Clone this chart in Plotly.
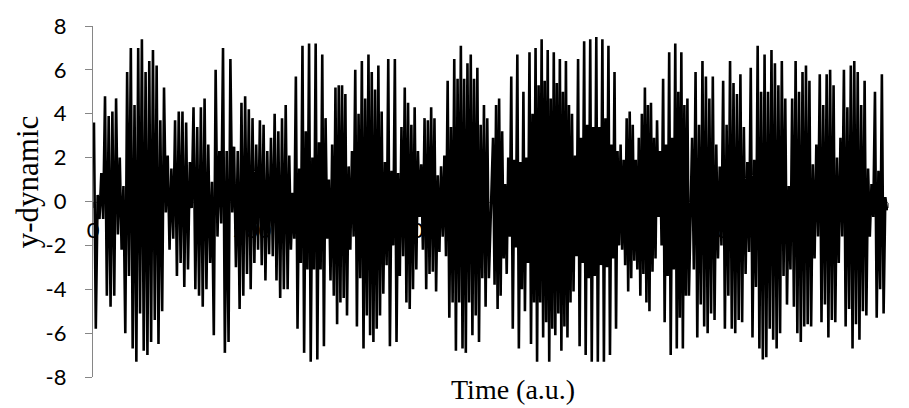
import plotly.graph_objects as go

# Values (successive peaks/troughs of y-dynamic), four stretches of time
seg1_values = [3.6, -5.8, 0.3, -0.8, 1.3, -0.8, 4.8, -4.3, 3.9, -4.8, 4.1, -4.3, 4.7, -1.5, 2.0, -2.2,
               0.7, -6.0, 5.9, -3.4, 7.0, -6.7, 4.4, -7.3, 7.0, -5.1, 7.4, -6.8, 5.9, -7.0, 6.4, -6.4,
               6.9, -5.4, 6.2, -6.5, 3.7, -5.0, 5.2, -0.5, 2.1, -2.2, 1.5, -1.7, 3.7, -3.4, 4.1, -2.8,
               4.1, -3.9, 3.6, -3.1, 1.8, -0.3, 4.3, -4.0, 3.4, -4.3, 4.3, -4.8, 4.7, -4.0, 2.6, -2.8,
               0.9, -6.1, 6.0, -1.6, 2.3, -1.0, 7.0, -6.9, 2.3, -6.4, 6.5, -0.5, 2.5, -3.0, 2.3, -4.9,
               4.5, -4.3, 4.8, -3.3, 4.2, -4.0, 3.8, -2.8, 2.6, -2.2, 3.7, -2.9, 3.5, -3.6, 2.3, -2.4,
               2.9, -2.5, 4.0, -3.6, 3.2, -4.4, 3.8, -4.0, 4.4]
seg2_values = [-4.0, 2.1, -2.2, 0.4, -1.7, 5.7, -5.8, 1.5, -2.8, 7.1, -6.9, 3.2, -3.1, 7.2, -7.3, 2.0,
               -3.1, 7.2, -7.2, 2.7, -3.1, 6.7, -6.6, 3.8, -1.7, 1.0, -3.6, 2.6, -4.3, 5.2, -5.6, 5.3,
               -4.6, 5.3, -4.4, 4.9, -5.2, 1.6, -2.2, 2.3, -1.6, 6.0, -5.7, 4.0, -3.5, 6.4, -6.7, 4.7,
               -5.2, 6.7, -6.1, 5.9, -6.4, 5.1, -5.8, 6.2, -5.2, 4.1, -4.2, 1.8, -2.9, 6.5, -6.6, 1.4,
               -2.0, 6.5, -6.4, 1.3, -3.4, 3.4, -2.5, 5.2, -4.6, 4.5, -4.9, 3.5, -4.0, 4.3, -3.1, 2.3,
               -0.7, 1.7, -2.2, 3.8, -4.0, 3.7, -3.3, 4.3, -3.2, 3.8, -4.1, 1.2, -2.3, 1.6, -1.6, 2.1,
               -2.5, 5.5, -5.3, 3.4, -4.6, 6.5, -6.8, 5.6, -4.6, 7.1, -6.7, 5.6, -6.9, 6.3, -4.6, 6.7,
               -6.1, 5.6, -5.2, 6.1, -6.4, 3.5, -3.5, 4.4, -4.8, 3.8, -3.5]
seg3_values = [2.9, -3.8, 4.4, -4.9, 4.7, -4.3, 3.2, -2.6, 0.8, -3.3, 2.0, -1.6, 5.7, -5.8, 1.9, -2.1,
               6.7, -6.7, 1.8, -4.0, 5.0, -5.0, 2.0, -2.8, 6.8, -6.5, 4.0, -4.6, 7.0, -7.3, 5.3, -4.6,
               7.4, -6.2, 5.5, -5.5, 6.9, -7.3, 4.7, -5.8, 6.8, -6.1, 5.4, -5.1, 6.5, -6.8, 5.0, -5.7,
               6.4, -6.2, 4.4, -4.6, 4.0, -4.1, 2.1, -2.5, 6.5, -6.6, 2.9, -2.8, 7.3, -7.0, 3.5, -3.5,
               7.4, -7.3, 3.4, -3.4, 7.5, -7.3, 3.4, -2.9, 7.4, -7.3, 3.8, -3.0, 7.1, -7.0, 2.6, -2.6,
               5.9, -5.8, 2.3, -2.0, 2.6, -2.2, 1.9, -2.9, 3.8, -4.1, 4.1, -3.5, 3.5, -2.7, 1.9, -3.1,
               2.9, -4.3, 4.0, -3.3, 5.2, -4.6, 4.4, -5.0, 4.5, -3.2, 2.9, -2.6, 3.7, -0.7, 2.3, -2.0,
               5.6, -5.5, 2.6, -3.4, 6.8, -7.0, 2.9, -3.1, 7.2, -6.7, 5.0, -5.3, 6.8, -6.7, 4.4, -4.3,
               4.7, -4.3]
seg4_values = [2.9, -3.1, 5.9, -6.2, 3.5, -4.7, 6.4, -5.7, 5.7, -6.0, 4.7, -5.1, 5.7, -5.4, 2.6, -2.6,
               1.6, -2.0, 5.5, -5.8, 3.5, -4.3, 6.4, -5.8, 5.4, -6.0, 4.9, -5.4, 5.8, -5.5, 3.4, -3.3,
               1.8, -2.3, 6.1, -6.2, 1.9, -3.9, 7.1, -6.7, 5.0, -7.2, 6.7, -7.1, 5.0, -5.8, 6.9, -6.3,
               6.3, -6.7, 5.3, -6.0, 6.4, -3.4, 4.7, -4.7, 0.7, -3.1, 4.7, -4.8, 6.4, -6.0, 5.0, -6.4,
               5.9, -5.7, 6.2, -5.6, 5.5, -5.7, 1.7, -2.6, 2.6, -1.6, 5.8, -5.5, 4.4, -4.7, 5.8, -6.2,
               6.0, -5.4, 5.3, -5.5, 2.0, -2.8, 2.9, -1.6, 6.0, -5.7, 4.3, -4.9, 6.2, -6.7, 6.4, -5.6,
               5.9, -6.3, 4.4, -5.0, 5.5, -5.2, 1.5, -1.6, 0.8, -0.7, 5.0, -5.3, 1.4, -4.0, 5.8, -5.1,
               0.2, -0.4]

# time span (a.u.) covered by each stretch
seg_start = [3, 612, 1258, 1884]
seg_end = [606, 1245, 1874, 2497]

x_ticks = [0, 500, 1000, 1500, 2000, 2500]
y_ticks = [-8, -6, -4, -2, 0, 2, 4, 6, 8]

times, values = [], []
for vals, t0, t1 in zip([seg1_values, seg2_values, seg3_values, seg4_values], seg_start, seg_end):
    n = len(vals)
    for i, v in enumerate(vals):
        times.append(t0 + (t1 - t0) * i / (n - 1))
        values.append(v)

AX = "#868686"
TICKFONT = dict(family="Lato, Open Sans, sans-serif", size=22, color="#000000")

fig = go.Figure()
fig.add_trace(go.Scatter(x=times, y=values, mode="lines",
                         line=dict(color="#000000", width=2.6), showlegend=False))

fig.update_layout(
    width=909, height=408,
    margin=dict(l=93, r=21, t=20, b=31),
    paper_bgcolor="white", plot_bgcolor="white",
    xaxis=dict(range=[0, 2500], tickvals=x_ticks, ticktext=[str(v) for v in x_ticks],
               showgrid=False, zeroline=False, showline=True, linecolor=AX, linewidth=1.3,
               ticks="outside", ticklen=5, tickcolor=AX, tickfont=TICKFONT,
               anchor="free", position=0.5, layer="below traces", ticklabelstandoff=4),
    yaxis=dict(range=[-8, 8], tickvals=y_ticks, ticktext=[str(v) for v in y_ticks],
               showgrid=False, zeroline=False, showline=True, linecolor=AX, linewidth=1.3,
               ticks="outside", ticklen=7, tickcolor=AX, tickfont=TICKFONT,
               layer="below traces", ticklabelstandoff=14),
    annotations=[
        dict(text="y-dynamic", xref="paper", yref="paper", x=-0.082, y=0.557,
             textangle=-90, showarrow=False, xanchor="center", yanchor="middle",
             font=dict(family="Liberation Serif, Times New Roman, serif", size=31, color="#000000")),
        dict(text="Time (a.u.)", xref="paper", yref="paper", x=0.528, y=-0.036,
             showarrow=False, xanchor="center", yanchor="middle",
             font=dict(family="Liberation Serif, Times New Roman, serif", size=28, color="#000000")),
    ],
)

fig.write_html("out.html", config={"displayModeBar": False},
               post_script="document.body.style.margin='0';")
